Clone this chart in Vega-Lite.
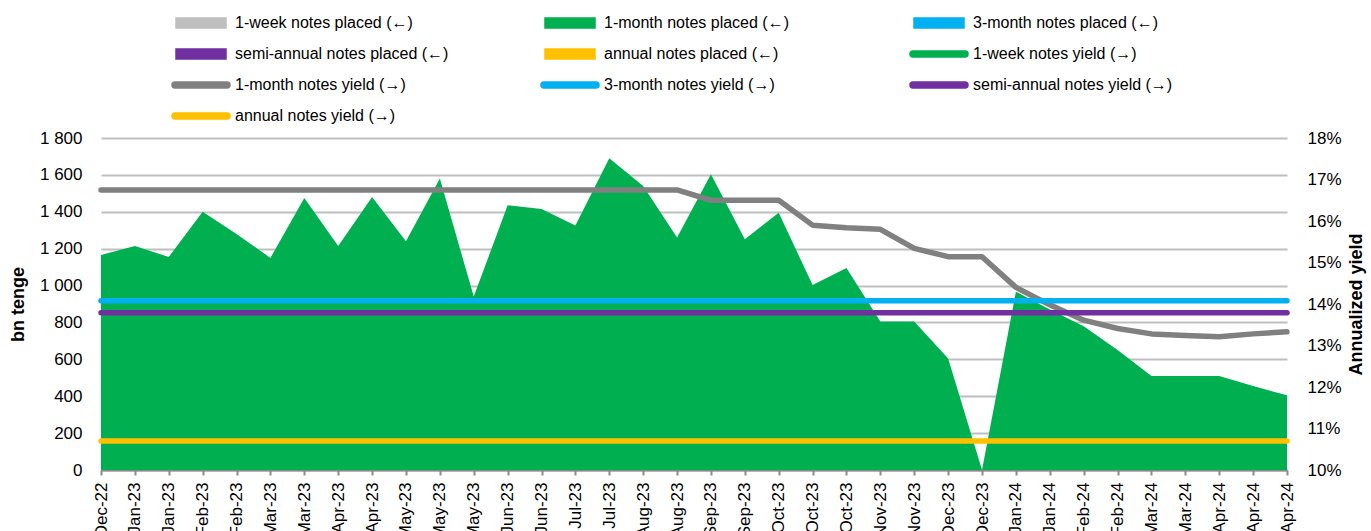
{
  "$schema": "https://vega.github.io/schema/vega-lite/v6.json",
  "width": 1186,
  "height": 332,
  "autosize": {"type": "none"},
  "padding": {"left": 101, "top": 138, "right": 84, "bottom": 61},
  "background": "white",
  "config": {
    "font": "Liberation Sans",
    "view": {"stroke": null},
    "axis": {"labelFont": "Liberation Sans", "titleFont": "Liberation Sans", "labelColor": "#000000", "titleColor": "#000000"},
    "legend": {
      "orient": "none",
      "legendX": 79,
      "legendY": -136,
      "direction": "horizontal",
      "columns": 3,
      "gridAlign": "all",
      "columnPadding": 89,
      "rowPadding": 2,
      "symbolSize": 1600,
      "labelFont": "Liberation Sans",
      "labelFontSize": 16,
      "labelColor": "#000000",
      "labelOffset": 13,
      "labelLimit": 0,
      "padding": 0
    }
  },
  "data": {
    "values": [
      {"i": 0, "p1m": 1165, "y1m": 16.75, "y3m": 14.08, "y6m": 13.79, "y12m": 10.7},
      {"i": 1, "p1m": 1215, "y1m": 16.75, "y3m": 14.08, "y6m": 13.79, "y12m": 10.7},
      {"i": 2, "p1m": 1155, "y1m": 16.75, "y3m": 14.08, "y6m": 13.79, "y12m": 10.7},
      {"i": 3, "p1m": 1400, "y1m": 16.75, "y3m": 14.08, "y6m": 13.79, "y12m": 10.7},
      {"i": 4, "p1m": 1280, "y1m": 16.75, "y3m": 14.08, "y6m": 13.79, "y12m": 10.7},
      {"i": 5, "p1m": 1150, "y1m": 16.75, "y3m": 14.08, "y6m": 13.79, "y12m": 10.7},
      {"i": 6, "p1m": 1475, "y1m": 16.75, "y3m": 14.08, "y6m": 13.79, "y12m": 10.7},
      {"i": 7, "p1m": 1215, "y1m": 16.75, "y3m": 14.08, "y6m": 13.79, "y12m": 10.7},
      {"i": 8, "p1m": 1480, "y1m": 16.75, "y3m": 14.08, "y6m": 13.79, "y12m": 10.7},
      {"i": 9, "p1m": 1240, "y1m": 16.75, "y3m": 14.08, "y6m": 13.79, "y12m": 10.7},
      {"i": 10, "p1m": 1580, "y1m": 16.75, "y3m": 14.08, "y6m": 13.79, "y12m": 10.7},
      {"i": 11, "p1m": 940, "y1m": 16.75, "y3m": 14.08, "y6m": 13.79, "y12m": 10.7},
      {"i": 12, "p1m": 1435, "y1m": 16.75, "y3m": 14.08, "y6m": 13.79, "y12m": 10.7},
      {"i": 13, "p1m": 1415, "y1m": 16.75, "y3m": 14.08, "y6m": 13.79, "y12m": 10.7},
      {"i": 14, "p1m": 1325, "y1m": 16.75, "y3m": 14.08, "y6m": 13.79, "y12m": 10.7},
      {"i": 15, "p1m": 1690, "y1m": 16.75, "y3m": 14.08, "y6m": 13.79, "y12m": 10.7},
      {"i": 16, "p1m": 1540, "y1m": 16.75, "y3m": 14.08, "y6m": 13.79, "y12m": 10.7},
      {"i": 17, "p1m": 1260, "y1m": 16.75, "y3m": 14.08, "y6m": 13.79, "y12m": 10.7},
      {"i": 18, "p1m": 1603, "y1m": 16.5, "y3m": 14.08, "y6m": 13.79, "y12m": 10.7},
      {"i": 19, "p1m": 1251, "y1m": 16.5, "y3m": 14.08, "y6m": 13.79, "y12m": 10.7},
      {"i": 20, "p1m": 1395, "y1m": 16.5, "y3m": 14.08, "y6m": 13.79, "y12m": 10.7},
      {"i": 21, "p1m": 1003, "y1m": 15.9, "y3m": 14.08, "y6m": 13.79, "y12m": 10.7},
      {"i": 22, "p1m": 1095, "y1m": 15.84, "y3m": 14.08, "y6m": 13.79, "y12m": 10.7},
      {"i": 23, "p1m": 805, "y1m": 15.8, "y3m": 14.08, "y6m": 13.79, "y12m": 10.7},
      {"i": 24, "p1m": 805, "y1m": 15.34, "y3m": 14.08, "y6m": 13.79, "y12m": 10.7},
      {"i": 25, "p1m": 605, "y1m": 15.14, "y3m": 14.08, "y6m": 13.79, "y12m": 10.7},
      {"i": 26, "p1m": 0, "y1m": 15.14, "y3m": 14.08, "y6m": 13.79, "y12m": 10.7},
      {"i": 27, "p1m": 967, "y1m": 14.4, "y3m": 14.08, "y6m": 13.79, "y12m": 10.7},
      {"i": 28, "p1m": 870, "y1m": 13.98, "y3m": 14.08, "y6m": 13.79, "y12m": 10.7},
      {"i": 29, "p1m": 780, "y1m": 13.61, "y3m": 14.08, "y6m": 13.79, "y12m": 10.7},
      {"i": 30, "p1m": 650, "y1m": 13.41, "y3m": 14.08, "y6m": 13.79, "y12m": 10.7},
      {"i": 31, "p1m": 510, "y1m": 13.28, "y3m": 14.08, "y6m": 13.79, "y12m": 10.7},
      {"i": 32, "p1m": 510, "y1m": 13.24, "y3m": 14.08, "y6m": 13.79, "y12m": 10.7},
      {"i": 33, "p1m": 510, "y1m": 13.21, "y3m": 14.08, "y6m": 13.79, "y12m": 10.7},
      {"i": 34, "p1m": 455, "y1m": 13.28, "y3m": 14.08, "y6m": 13.79, "y12m": 10.7},
      {"i": 35, "p1m": 405, "y1m": 13.33, "y3m": 14.08, "y6m": 13.79, "y12m": 10.7}
    ]
  },
  "layer": [
    {
      "mark": {"type": "area", "interpolate": "linear", "opacity": 1},
      "encoding": {
        "x": {
          "field": "i", "type": "ordinal",
          "scale": {"type": "point", "padding": 0},
          "axis": {
            "title": null,
            "labelExpr": "['Dec-22','Jan-23','Jan-23','Feb-23','Feb-23','Mar-23','Mar-23','Apr-23','Apr-23','May-23','May-23','May-23','Jun-23','Jun-23','Jul-23','Jul-23','Aug-23','Aug-23','Sep-23','Sep-23','Oct-23','Oct-23','Oct-23','Nov-23','Nov-23','Dec-23','Dec-23','Jan-24','Jan-24','Feb-24','Feb-24','Mar-24','Mar-24','Apr-24','Apr-24','Apr-24'][datum.value]",
            "labelAngle": 270,
            "labelAlign": "right",
            "labelBaseline": "middle",
            "labelFontSize": 17,
            "labelPadding": 7,
            "labelOverlap": false,
            "labelBound": false,
            "labelFlush": false,
            "grid": false,
            "domainColor": "#898989",
            "domainWidth": 2,
            "tickColor": "#898989",
            "tickWidth": 2,
            "tickSize": 5
          }
        },
        "y": {
          "field": "p1m", "type": "quantitative",
          "scale": {"domain": [0, 1800], "nice": false},
          "axis": {
            "title": "bn tenge",
            "titleFontSize": 18,
            "titleFontWeight": "bold",
            "titlePadding": 12,
            "values": [0, 200, 400, 600, 800, 1000, 1200, 1400, 1600, 1800],
            "labelExpr": "replace(format(datum.value, ','), ',', ' ')",
            "labelFontSize": 17,
            "labelPadding": 19,
            "domain": false,
            "ticks": false,
            "grid": true,
            "gridColor": "#BFBFBF",
            "gridWidth": 2
          }
        },
        "color": {
          "datum": "1-month notes placed (←)",
          "type": "nominal",
          "scale": {
            "domain": [
              "1-week notes placed (←)", "1-month notes placed (←)", "3-month notes placed (←)",
              "semi-annual notes placed (←)", "annual notes placed (←)", "1-week notes yield (→)",
              "1-month notes yield (→)", "3-month notes yield (→)", "semi-annual notes yield (→)",
              "annual notes yield (→)"
            ],
            "range": ["#BFBFBF", "#00B050", "#00B0F0", "#7030A0", "#FFC000", "#00B050", "#808080", "#00B0F0", "#7030A0", "#FFC000"]
          },
          "legend": {
            "title": null,
            "symbolType": {"expr": "indexof(datum.value, 'placed') >= 0 ? 'M-1.25,-0.25H1.25V0.25H-1.25Z' : 'M-1.3,-0.15H1.3A0.15,0.15 0 0 1 1.3,0.15H-1.3A0.15,0.15 0 0 1 -1.3,-0.15Z'"}
          }
        }
      }
    },
    {
      "layer": [
        {
          "mark": {"type": "line", "strokeWidth": 5.5, "strokeCap": "round", "strokeJoin": "round"},
          "encoding": {
            "x": {"field": "i", "type": "ordinal"},
            "y": {
              "field": "y1m", "type": "quantitative",
              "scale": {"domain": [10, 18], "nice": false, "zero": false},
              "axis": {
                "orient": "right",
                "title": "Annualized yield",
                "titleAngle": 270,
                "titleBaseline": "top",
                "titleFontSize": 18,
                "titleFontWeight": "bold",
                "titlePadding": 6,
                "values": [10, 11, 12, 13, 14, 15, 16, 17, 18],
                "labelExpr": "format(datum.value, 'd') + '%'",
                "labelFontSize": 17,
                "labelPadding": 20,
                "domain": false,
                "ticks": false,
                "grid": false
              }
            },
            "color": {"datum": "1-month notes yield (→)", "type": "nominal"}
          }
        },
        {
          "mark": {"type": "line", "strokeWidth": 5.5, "strokeCap": "round", "strokeJoin": "round"},
          "encoding": {
            "x": {"field": "i", "type": "ordinal"},
            "y": {"field": "y3m", "type": "quantitative"},
            "color": {"datum": "3-month notes yield (→)", "type": "nominal"}
          }
        },
        {
          "mark": {"type": "line", "strokeWidth": 5.5, "strokeCap": "round", "strokeJoin": "round"},
          "encoding": {
            "x": {"field": "i", "type": "ordinal"},
            "y": {"field": "y6m", "type": "quantitative"},
            "color": {"datum": "semi-annual notes yield (→)", "type": "nominal"}
          }
        },
        {
          "mark": {"type": "line", "strokeWidth": 5.5, "strokeCap": "round", "strokeJoin": "round"},
          "encoding": {
            "x": {"field": "i", "type": "ordinal"},
            "y": {"field": "y12m", "type": "quantitative"},
            "color": {"datum": "annual notes yield (→)", "type": "nominal"}
          }
        }
      ]
    }
  ],
  "resolve": {"scale": {"y": "independent"}}
}
